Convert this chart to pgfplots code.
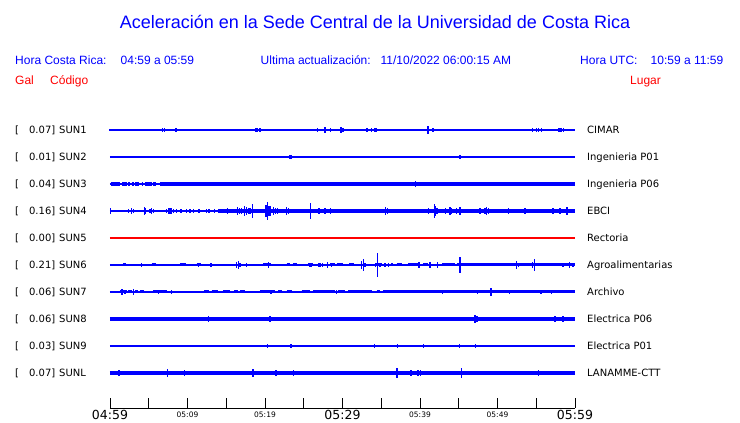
\documentclass[border=0pt]{standalone}
\usepackage{pgfplots}
\pgfplotsset{compat=1.18}
\usepackage{fontspec}
\setmainfont{Liberation Sans}
\newfontfamily\dejavu{DejaVu Sans}
\definecolor{tblue}{RGB}{0,0,255}
\definecolor{tred}{RGB}{255,0,0}
\pgfplotsset{
  spk/.style={draw=none, mark=none, forget plot,
    error bars/.cd, y dir=both, y explicit, error mark=none,
    error bar style={draw=tblue, solid, line width=1.6pt}},
  band/.style={draw=tblue, color=tblue, mark=none, forget plot, line width=#1, line cap=butt},
}
\newcommand{\biglab}[1]{{\fontsize{12.5}{14}\selectfont #1}}
\newcommand{\smllab}[1]{\raisebox{2.5pt}{\fontsize{7.5}{9}\selectfont #1}}
\begin{document}
\begin{tikzpicture}
\begin{scope}[x=1pt,y=-1pt,shift={(-110pt,408pt)}]
\path[use as bounding box] (0,0) rectangle (740,423);
\node[anchor=base, text=tblue, font=\fontsize{18}{21}\selectfont, inner sep=0pt] at (375,28.5) {Aceleración en la Sede Central de la Universidad de Costa Rica};
\begin{scope}[every node/.style={anchor=base west, inner sep=0pt, font=\fontsize{12}{14}\selectfont}]
\node[text=tblue] at (15,65) {Hora Costa Rica:};
\node[text=tblue] at (120.5,65) {04:59 a 05:59};
\node[text=tblue] at (260.5,65) {Ultima actualización:};
\node[text=tblue] at (380.5,65) {11/10/2022 06:00:15 AM};
\node[text=tblue] at (580,65) {Hora UTC:};
\node[text=tblue] at (650.5,65) {10:59 a 11:59};
\node[text=tred] at (15,84.5) {Gal};
\node[text=tred] at (50,84.5) {Código};
\node[text=tred] at (630,84.5) {Lugar};
\end{scope}
\begin{scope}[every node/.style={inner sep=0pt, font=\dejavu\fontsize{10}{12}\selectfont}]
\foreach \py/\v/\c/\l in {130/0.07/SUN1/CIMAR, 157/0.01/SUN2/Ingenieria P01, 184/0.04/SUN3/Ingenieria P06, 211/0.16/SUN4/EBCI, 238/0.00/SUN5/Rectoria, 265/0.21/SUN6/Agroalimentarias, 292/0.06/SUN7/Archivo, 319/0.06/SUN8/Electrica P06, 346/0.03/SUN9/Electrica P01, 373/0.07/SUNL/LANAMME-CTT}{
  \node[anchor=base west] at (15,\py+3.7) {[};
  \node[anchor=base east] at (55.5,\py+3.7) {\v]};
  \node[anchor=base west] at (59,\py+3.7) {\c};
  \node[anchor=base west] at (587,\py+3.7) {\l};
}
\end{scope}
\end{scope}

\begin{axis}[
  at={(0pt,0pt)}, anchor=south west,
  scale only axis, width=465pt, height=308pt,
  xmin=0, xmax=60, ymin=0, ymax=308,
  axis x line*=bottom, axis y line=none,
  clip=false, unbounded coords=jump,
  xtick={0,5,...,60},
  xticklabels={\biglab{04:59},,\smllab{05:09},,\smllab{05:19},,\biglab{05:29},,\smllab{05:39},,\smllab{05:49},,\biglab{05:59}},
  xticklabel style={font=\dejavu, inner sep=0pt, anchor=base, yshift=-12pt},
  xtick align=inside, major tick length=10pt,
  tick style={black, line width=0.8pt},
  axis line style={black, line width=0.8pt},
]
% ---------------- SUN5 (y=170)
\addplot[draw=tred, color=tred, mark=none, forget plot, line width=1.3pt] coordinates {(0,170) (60,170)};
% ---------------- SUN1 (y=278)
\addplot[band=1.2pt] coordinates {(0,278) (60,278)};
\addplot[band=2.7pt] table {
x y
8.17 278
8.60 278
nan nan
9.03 278
9.46 278
nan nan
33.20 278
34.41 278
nan nan
57.85 278
58.62 278
};
\addplot[spk] table[x=x,y=y,y error=e] {
x y e
0 278 1.33
0.22 278 1.33
1.51 278 1
3.44 278 1.33
3.66 278 0.67
4.86 278 1
6.75 278 2.33
7.01 278 1.67
7.44 278 1.33
8.30 278 1.33
8.52 278 1.67
9.03 278 1.33
9.33 278 1.33
10.24 278 1
11.53 278 1
13.20 278 1
13.68 278 1.33
18.84 278 2.33
19.05 278 1.67
19.35 278 1.67
20.09 278 1.33
20.34 278 1.33
21.51 278 1
22.41 278 1.33
22.88 278 1
23.87 278 1.33
24.73 278 1.33
25.55 278 1.33
26.80 278 1.67
26.97 278 1.33
27.74 278 2.67
28.43 278 2.33
29.81 278 3
30.06 278 1.67
31.05 278 1
33.20 278 1.67
33.42 278 1.33
33.76 278 1.67
34.11 278 1.67
34.32 278 1.67
39.57 278 1.33
40.22 278 1
41.03 278 4.33
41.68 278 1.67
42.15 278 1.33
43.14 278 1
43.57 278 1.33
44.52 278 1.33
46.02 278 1
46.54 278 1
46.75 278 1
48.22 278 1
48.82 278 1
49.98 278 1
51.53 278 1
53.76 278 1
54.54 278 1.67
55.05 278 1.67
55.27 278 2.33
55.70 278 1.67
55.96 278 1.33
56.47 278 1.33
56.99 278 1.33
57.85 278 1.67
58.06 278 1.67
58.28 278 1.67
58.54 278 1.67
58.92 278 1.33
59.83 278 1
};
% ---------------- SUN2 (y=251)
\addplot[band=1.2pt] coordinates {(0,251) (60,251)};
\addplot[spk] table[x=x,y=y,y error=e] {
x y e
18.92 251 1.33
23.25 251 1.67
23.35 251 1.67
39.01 251 1
39.27 251 1
40.56 251 1
45.15 251 1.67
45.25 251 1.67
54.41 251 1.33
};
% ---------------- SUN3 (y=224)
\addplot[band=1.2pt] coordinates {(0,224) (60,224)};
\addplot[band=3.2pt] table {
x y
0.09 224
1.29 224
nan nan
1.59 224
2.15 224
nan nan
2.37 224
2.54 224
nan nan
2.80 224
3.05 224
nan nan
3.23 224
3.78 224
nan nan
4.09 224
4.22 224
nan nan
4.52 224
5.38 224
nan nan
5.59 224
5.89 224
nan nan
6.45 224
60 224
};
\addplot[spk] table[x=x,y=y,y error=e] {
x y e
10.37 224 2
15.27 224 1.67
17.38 224 2.33
20.34 224 2.33
20.65 224 2
21.20 224 1.67
25.38 224 1.33
29.89 224 1
33.98 224 2.33
39.44 224 3
39.57 224 2.33
40.04 224 2
42.15 224 2.33
48.69 224 2
51.53 224 2
56.13 224 1
};
% ---------------- SUN4 (y=197)
\addplot[band=1.5pt] coordinates {(0,197) (60,197)};
\addplot[band=2.7pt] table {
x y
2.15 197
3.44 197
nan nan
4.30 197
5.59 197
nan nan
7.31 197
8.39 197
nan nan
9.03 197
10.97 197
nan nan
11.40 197
13.55 197
nan nan
13.98 197
60 197
};
\addplot[band=3.4pt] coordinates {(13.98,197) (60,197)};
\addplot[spk] table[x=x,y=y,y error=e] {
x y e
0.09 197 2.67
0.65 197 1.33
1.29 197 1.33
2.37 197 1.67
2.80 197 2.67
3.01 197 2.33
3.44 197 1.33
4.43 197 4.33
4.60 197 3.33
5.16 197 2.33
5.38 197 2.67
5.59 197 1.67
7.31 197 1.67
7.53 197 3.33
7.74 197 2.67
7.96 197 3
8.17 197 2.33
8.60 197 1.67
9.16 197 2
9.89 197 1.67
10.32 197 2
10.75 197 2.33
11.48 197 1.67
12.47 197 2
12.77 197 1.67
13.46 197 1.67
15.18 197 3.33
15.35 197 2.33
16.47 197 4
16.73 197 3
16.99 197 3.33
17.33 197 5
17.59 197 4
17.94 197 3.33
18.15 197 3
18.37 197 7.33
19.05 197 2
20.13 197 5.67
20.30 197 9.33
20.52 197 5
20.73 197 4.67
21.08 197 4
21.38 197 3
21.63 197 3
21.89 197 2.33
22.80 197 3.67
23.01 197 2.67
23.44 197 2
23.87 197 2
24.39 197 2.33
25.85 197 8.33
26.11 197 2
26.80 197 2.33
26.97 197 2.67
27.74 197 2.67
28.00 197 2
28.43 197 3.33
29.03 197 2
31.27 197 1.67
32.26 197 2
35.31 197 2.33
35.57 197 3.67
35.83 197 2.67
36.60 197 2.33
38.28 197 2.33
38.49 197 2.33
38.71 197 2.33
40.43 197 2.33
40.86 197 2
41.08 197 2.67
41.85 197 6.67
42.02 197 5
42.19 197 3.33
43.31 197 3.33
43.87 197 4.33
44.09 197 2.67
44.73 197 2.67
45.20 197 4.33
45.59 197 2.33
46.15 197 2
46.67 197 1.67
47.74 197 3
48.39 197 3.33
48.60 197 4
48.82 197 3
49.25 197 2.33
50.11 197 2
51.40 197 3.33
51.74 197 2.33
53.55 197 3.33
53.81 197 2
55.18 197 2.33
56.77 197 2.33
57.20 197 3.33
57.63 197 2.33
58.06 197 3.33
58.71 197 2.33
58.97 197 4
};
% ---------------- SUN6 (y=143)
\addplot[band=1.2pt] coordinates {(0,143) (60,143)};
\addplot[band=3pt] table {
x y
1.72 143
2.02 143
nan nan
5.38 143
5.89 143
nan nan
9.03 143
9.76 143
nan nan
11.18 143
11.74 143
nan nan
19.78 143
20.73 143
nan nan
22.80 143
23.23 143
nan nan
23.66 143
24.09 143
nan nan
25.59 143
26.24 143
nan nan
28.39 143
29.03 143
nan nan
29.25 143
30.11 143
nan nan
30.84 143
31.53 143
nan nan
34.28 143
35.05 143
nan nan
36.26 143
36.56 143
nan nan
36.99 143
37.63 143
nan nan
38.49 143
39.78 143
nan nan
40.43 143
41.08 143
nan nan
42.88 143
44.52 143
nan nan
44.73 143
60 143
};
\addplot[spk] table[x=x,y=y,y error=e] {
x y e
0.65 143 1
2.58 143 1
3.57 143 1.33
4.09 143 2
4.60 143 1.33
6.24 143 1.33
6.67 143 1.33
7.31 143 1.33
7.96 143 1.33
8.52 143 1.33
10.45 143 1
11.40 143 2
12.04 143 1.33
12.95 143 2.33
13.12 143 1.67
13.55 143 1.33
14.24 143 1.33
14.71 143 1.33
16.34 143 3.33
16.56 143 4.33
16.77 143 2.33
17.20 143 1.33
17.63 143 1.67
18.28 143 1
18.80 143 1
20.43 143 2.67
21.72 143 1.33
25.16 143 1.33
25.81 143 2.33
26.02 143 2.33
26.88 143 2.33
27.10 143 2
27.40 143 2
28.09 143 3.33
28.60 143 1.67
32.47 143 4.33
32.69 143 5.67
32.90 143 2.33
33.33 143 1.33
33.76 143 1.33
34.28 143 2.33
34.54 143 11.67
34.84 143 2.33
35.48 143 2
35.91 143 1.67
39.87 143 3
41.29 143 2.67
42.28 143 3.33
45.20 143 8.33
52.47 143 3.67
52.69 143 2.33
54.54 143 2.67
54.75 143 5.67
58.49 143 2
59.27 143 2.67
59.74 143 2
};
% ---------------- SUN7 (y=116)
\addplot[band=1.2pt] coordinates {(0,116) (60,116)};
\addplot[band=3pt] table {
x y
1.29 116
2.15 116
nan nan
2.37 116
2.80 116
nan nan
3.23 116
3.66 116
nan nan
3.87 116
4.43 116
nan nan
5.59 116
7.31 116
nan nan
12.17 116
12.77 116
nan nan
13.12 116
13.98 116
nan nan
14.62 116
15.53 116
nan nan
16.04 116
16.56 116
nan nan
16.77 116
17.42 116
nan nan
19.35 116
21.29 116
nan nan
21.72 116
22.15 116
nan nan
22.80 116
23.44 116
nan nan
24.73 116
25.81 116
nan nan
26.24 116
29.03 116
nan nan
29.46 116
30.32 116
nan nan
30.75 116
33.76 116
nan nan
34.41 116
34.84 116
nan nan
35.27 116
60 116
};
\addplot[spk] table[x=x,y=y,y error=e] {
x y e
0.13 116 1
1.51 116 2.67
1.94 116 2
3.01 116 2.67
4.95 116 1.33
6.24 116 1.67
7.96 116 1.67
8.17 116 1.33
9.25 116 1
9.68 116 1
10.45 116 1
10.97 116 1
18.28 116 1
20.77 116 2.33
24.09 116 1
29.25 116 1.67
34.11 116 1.33
42.88 116 2
47.44 116 1.67
49.16 116 3.67
51.53 116 2.33
55.61 116 2
56.99 116 1.67
57.85 116 1.33
};
% ---------------- SUN8 (y=89)
\addplot[band=3.4pt] coordinates {(0,89) (60,89)};
\addplot[spk] table[x=x,y=y,y error=e] {
x y e
1.94 89 2.33
7.01 89 2
9.89 89 1.67
10.88 89 1.67
12.69 89 2.67
13.55 89 2.33
15.78 89 1.33
16.77 89 1.67
17.42 89 2
17.85 89 1.33
19.78 89 2
20.22 89 2
20.65 89 2.67
21.08 89 2
21.72 89 1.67
22.24 89 1.67
23.44 89 2
23.78 89 1.67
24.65 89 2
25.16 89 2
26.67 89 2.33
27.01 89 2.33
28.09 89 2
28.60 89 2.33
31.18 89 2
32.34 89 2.33
33.16 89 2
34.19 89 2
35.05 89 2
35.83 89 2
36.26 89 2.33
36.60 89 2
37.29 89 2
37.98 89 2
38.32 89 1.67
38.67 89 2
39.01 89 2
39.44 89 2
39.87 89 2.33
40.30 89 2
40.73 89 2
41.16 89 2.33
41.59 89 2
42.19 89 2
44.09 89 2
44.73 89 2
44.95 89 2
45.38 89 2
46.02 89 2
47.10 89 3.67
47.35 89 3
48.17 89 2
48.82 89 1.67
49.25 89 2
50.32 89 1.67
50.97 89 2
51.61 89 2
52.17 89 2
52.69 89 2
53.33 89 2
54.19 89 2
54.84 89 2
55.70 89 2
56.34 89 2
56.99 89 2.33
57.41 89 2.67
57.94 89 2.33
58.49 89 3.33
58.92 89 1.67
59.35 89 1.67
};
% ---------------- SUN9 (y=62)
\addplot[band=1.2pt] coordinates {(0,62) (60,62)};
\addplot[spk] table[x=x,y=y,y error=e] {
x y e
0.95 62 1.33
7.74 62 1
8.52 62 1
9.33 62 1.33
12.69 62 1
17.63 62 1
18.84 62 1.33
20.30 62 1.67
20.69 62 1.33
21.20 62 1.33
23.01 62 1.33
23.35 62 1.67
23.87 62 1
24.22 62 1
24.65 62 1
25.81 62 1
27.96 62 1
33.20 62 1.33
34.11 62 1.67
34.88 62 1.33
36.47 62 1
37.12 62 1.67
38.67 62 1
39.01 62 1.33
39.35 62 1.33
40.43 62 1.67
40.73 62 1.33
41.59 62 1
45.08 62 1.67
45.38 62 1.33
46.02 62 1
47.18 62 2.33
47.74 62 1
48.95 62 1
51.40 62 1
52.26 62 1
53.46 62 1
54.92 62 1.33
55.70 62 1
56.99 62 1
57.51 62 1.33
58.62 62 1.33
};
% ---------------- SUNL (y=35)
\addplot[band=3.4pt] coordinates {(0,35) (60,35)};
\addplot[spk] table[x=x,y=y,y error=e] {
x y e
1.20 35 2.67
7.44 35 3.67
9.59 35 2.67
18.45 35 3.67
21.42 35 3
23.70 35 3.33
24.39 35 1.67
32.56 35 1.67
33.16 35 1.33
34.41 35 2.33
37.03 35 4.67
38.84 35 2.67
39.78 35 2.67
40.04 35 3
43.14 35 1.67
45.38 35 4.67
46.54 35 2
46.88 35 2
47.18 35 2
55.27 35 2.67
};
\end{axis}
\end{tikzpicture}
\end{document}
